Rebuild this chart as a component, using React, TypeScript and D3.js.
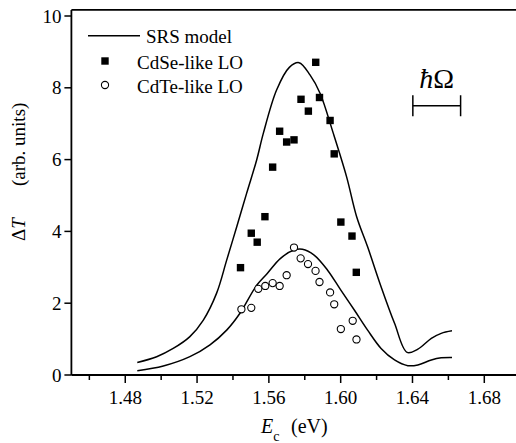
import React from "react";
import * as d3 from "d3";

// SRS model curves
const srsUpperX = [1.4867, 1.4975, 1.5067, 1.5160, 1.5235, 1.5309, 1.5365, 1.5421, 1.5476, 1.5532, 1.5569, 1.5643, 1.5714, 1.5768, 1.5829, 1.5885, 1.5959, 1.6033, 1.6089, 1.615, 1.6225, 1.630, 1.637, 1.643, 1.6505, 1.656, 1.662];
const srsUpperY = [0.35, 0.51, 0.74, 1.07, 1.53, 2.28, 3.20, 4.13, 5.06, 5.99, 6.73, 7.94, 8.57, 8.70, 8.36, 7.85, 6.73, 5.52, 4.41, 3.57, 2.46, 1.44, 0.63, 0.72, 1.02, 1.16, 1.23];
const srsLowerX = [1.4867, 1.5012, 1.5160, 1.5272, 1.5365, 1.5439, 1.5532, 1.5591, 1.5665, 1.574, 1.5787, 1.5852, 1.5927, 1.600, 1.6076, 1.615, 1.6225, 1.630, 1.6374, 1.643, 1.6505, 1.656, 1.662];
const srsLowerY = [0.12, 0.25, 0.51, 0.84, 1.25, 1.72, 2.50, 2.83, 3.25, 3.48, 3.50, 3.34, 2.92, 2.37, 1.81, 1.25, 0.74, 0.42, 0.26, 0.28, 0.42, 0.48, 0.49];

// CdSe-like LO (squares)
const cdseX = [1.5442, 1.5502, 1.5535, 1.5578, 1.5621, 1.5660, 1.5699, 1.5740, 1.5779, 1.5820, 1.5861, 1.5882, 1.5941, 1.5964, 1.6001, 1.6063, 1.6087];
const cdseY = [2.99, 3.95, 3.70, 4.41, 5.79, 6.79, 6.49, 6.55, 7.68, 7.35, 8.71, 7.73, 7.09, 6.16, 4.26, 3.87, 2.86];

// CdTe-like LO (circles)
const cdteX = [1.5447, 1.5502, 1.5541, 1.5580, 1.5621, 1.5660, 1.5699, 1.5740, 1.5777, 1.5818, 1.5860, 1.5882, 1.5941, 1.5964, 1.6001, 1.6067, 1.6088];
const cdteY = [1.83, 1.87, 2.40, 2.48, 2.56, 2.48, 2.78, 3.55, 3.25, 3.09, 2.90, 2.59, 2.30, 1.97, 1.28, 1.51, 0.99];

const xMajor = [1.48, 1.52, 1.56, 1.60, 1.64, 1.68];
const xMinor = [1.46, 1.50, 1.54, 1.58, 1.62, 1.66, 1.70];
const yMajor = [0, 2, 4, 6, 8, 10];
const hbarX = [1.6402, 1.6668];
const hbarY = 7.5;

const W = 516;
const H = 443;
const FONT = "'Liberation Serif', 'Times New Roman', serif";

export default function App() {
  const x = d3.scaleLinear().domain([1.45, 1.70]).range([71.4, 520.2]);
  const y = d3.scaleLinear().domain([0, 10]).range([375, 16]);
  const yTop = y(10.17);

  const line = d3
    .line<[number, number]>()
    .x((d) => x(d[0]))
    .y((d) => y(d[1]))
    .curve(d3.curveCatmullRom.alpha(0.5));

  const upper = srsUpperX.map((v, i) => [v, srsUpperY[i]] as [number, number]);
  const lower = srsLowerX.map((v, i) => [v, srsLowerY[i]] as [number, number]);
  const sq = 7.4;

  return (
    <svg
      width={W}
      height={H}
      style={{ position: "absolute", left: 0, top: 0, background: "#fff", fontFamily: FONT }}
    >
      <rect x={0} y={0} width={W} height={H} fill="#fff" />
      {/* frame */}
      <line x1={x(1.45)} x2={W} y1={yTop} y2={yTop} stroke="#000" strokeWidth={1.8} />
      <line x1={x(1.45)} x2={x(1.45)} y1={yTop} y2={y(0)} stroke="#000" strokeWidth={1.8} />
      <line x1={x(1.45)} x2={W} y1={y(0)} y2={y(0)} stroke="#000" strokeWidth={1.8} />

      {/* y ticks */}
      {yMajor.map((v) => (
        <g key={"y" + v}>
          <line x1={x(1.45) - 7} x2={x(1.45)} y1={y(v)} y2={y(v)} stroke="#000" strokeWidth={1.5} />
          <text x={x(1.45) - 10} y={y(v)} dy="0.35em" textAnchor="end" fontSize={19}>
            {v}
          </text>
        </g>
      ))}
      {/* x ticks */}
      {xMajor.map((v) => (
        <g key={"x" + v}>
          <line x1={x(v)} x2={x(v)} y1={y(0)} y2={y(0) + 8} stroke="#000" strokeWidth={1.5} />
          <text x={x(v)} y={404} textAnchor="middle" fontSize={19}>
            {v.toFixed(2)}
          </text>
        </g>
      ))}
      {xMinor.map((v) => (
        <line key={"xm" + v} x1={x(v)} x2={x(v)} y1={y(0)} y2={y(0) + 5} stroke="#000" strokeWidth={1.5} />
      ))}

      {/* axis titles */}
      <text x={261} y={433} fontSize={20}>
        <tspan fontStyle="italic">E</tspan>
        <tspan fontSize={14} dy={8}>c</tspan>
      </text>
      <text x={291} y={433} fontSize={20}>(eV)</text>
      <text transform="translate(25,241) rotate(-90)" fontSize={19}>
        <tspan>Δ</tspan>
        <tspan fontStyle="italic">T</tspan>
      </text>
      <text transform="translate(25,186) rotate(-90)" fontSize={19}>
        (arb. units)
      </text>

      {/* curves */}
      <path d={line(upper) || ""} fill="none" stroke="#000" strokeWidth={1.5} />
      <path d={line(lower) || ""} fill="none" stroke="#000" strokeWidth={1.5} />

      {/* squares */}
      {cdseX.map((v, i) => (
        <rect key={"s" + i} x={x(v) - sq / 2} y={y(cdseY[i]) - sq / 2} width={sq} height={sq} fill="#000" />
      ))}
      {/* circles */}
      {cdteX.map((v, i) => (
        <circle key={"c" + i} cx={x(v)} cy={y(cdteY[i])} r={3.6} fill="#fff" stroke="#000" strokeWidth={1.1} />
      ))}

      {/* legend */}
      <line x1={88} x2={140} y1={35.7} y2={35.7} stroke="#000" strokeWidth={1.5} />
      <text x={146} y={43} fontSize={19}>SRS model</text>
      <rect x={105 - sq / 2} y={61 - sq / 2} width={sq} height={sq} fill="#000" />
      <text x={137} y={69} fontSize={19}>CdSe-like LO</text>
      <circle cx={105} cy={85} r={3.6} fill="#fff" stroke="#000" strokeWidth={1.1} />
      <text x={137} y={93} fontSize={19}>CdTe-like LO</text>

      {/* hbar Omega scale bar */}
      <text x={(x(hbarX[0]) + x(hbarX[1])) / 2} y={88} textAnchor="middle" fontSize={28}>
        <tspan fontStyle="italic">ħ</tspan>
        <tspan>Ω</tspan>
      </text>
      <line x1={x(hbarX[0])} x2={x(hbarX[1])} y1={y(hbarY)} y2={y(hbarY)} stroke="#000" strokeWidth={1.5} />
      <line x1={x(hbarX[0])} x2={x(hbarX[0])} y1={y(hbarY) - 10.5} y2={y(hbarY) + 10.5} stroke="#000" strokeWidth={1.5} />
      <line x1={x(hbarX[1])} x2={x(hbarX[1])} y1={y(hbarY) - 10.5} y2={y(hbarY) + 10.5} stroke="#000" strokeWidth={1.5} />
    </svg>
  );
}
